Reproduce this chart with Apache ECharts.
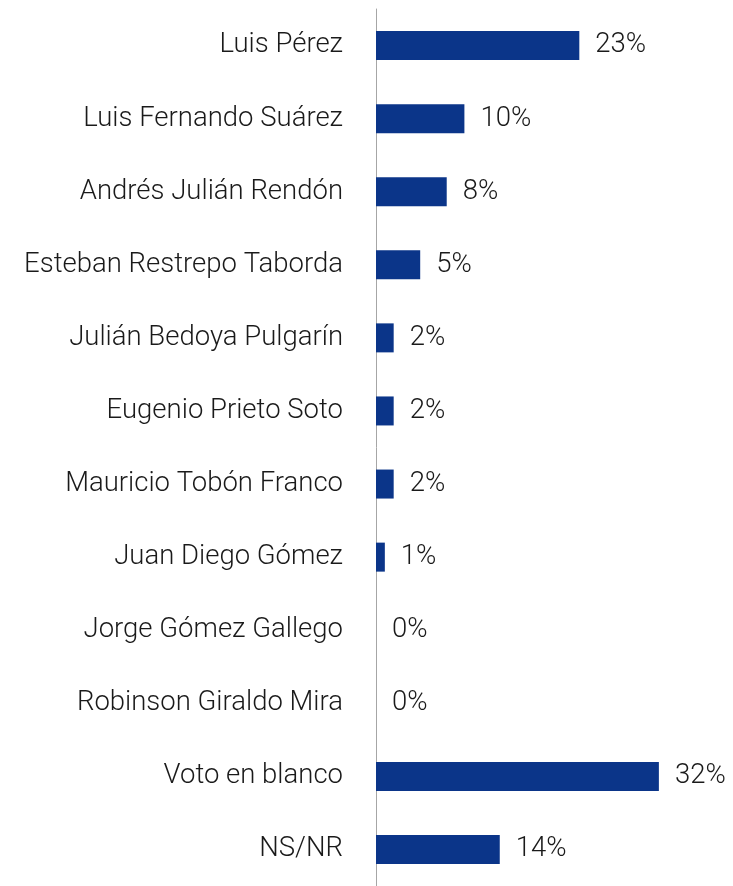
<!DOCTYPE html>
<html>
<head>
<meta charset="utf-8">
<style>
  html, body { margin: 0; padding: 0; background: #fff; }
  #chart { width: 733px; height: 886px; }
</style>
<script src="https://cdn.jsdelivr.net/npm/echarts@6/dist/echarts.min.js"></script>
</head>
<body>
<div id="chart"></div>
<script>
// candidates, top to bottom
const candidates = [
  'Luis Pérez',
  'Luis Fernando Suárez',
  'Andrés Julián Rendón',
  'Esteban Restrepo Taborda',
  'Julián Bedoya Pulgarín',
  'Eugenio Prieto Soto',
  'Mauricio Tobón Franco',
  'Juan Diego Gómez',
  'Jorge Gómez Gallego',
  'Robinson Giraldo Mira',
  'Voto en blanco',
  'NS/NR',
];
// share of vote, percent
const shares = [23, 10, 8, 5, 2, 2, 2, 1, 0, 0, 32, 14];

const FONT = 'Roboto';
const chart = echarts.init(document.getElementById('chart'), null, { renderer: 'canvas' });

chart.setOption({
  backgroundColor: '#fff',
  animation: false,
  // last band runs a little past the bottom edge, as in the source
  grid: { left: 376, top: 9, width: 353.6, height: 882.6 },
  xAxis: {
    type: 'value',
    min: 0,
    max: 40,
    show: false,
  },
  yAxis: {
    type: 'category',
    inverse: true,
    data: candidates,
    axisLine: { show: true, lineStyle: { color: '#a6a6a6', width: 1 } },
    axisTick: { show: false },
    axisLabel: {
      margin: 33,
      fontFamily: FONT,
      fontWeight: 300,
      fontSize: 27.5,
      color: '#1a1a1a',
      padding: [4, 0, 0, 0],
    },
  },
  series: [{
    type: 'bar',
    data: shares,
    barWidth: 29,
    itemStyle: { color: '#0b3589' },
    label: {
      show: true,
      position: 'right',
      distance: 16,
      formatter: (p) => `${p.value}%`,
      fontFamily: FONT,
      fontWeight: 300,
      fontSize: 27.5,
      color: '#1a1a1a',
      padding: [4, 0, 0, 0],
    },
  }],
});
</script>
</body>
</html>
